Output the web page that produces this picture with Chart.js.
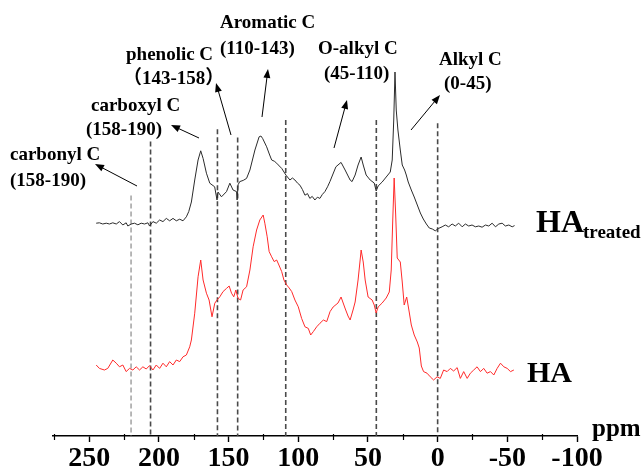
<!DOCTYPE html>
<html>
<head>
<meta charset="utf-8">
<script src="https://cdn.jsdelivr.net/npm/chart.js@4.4.1/dist/chart.umd.min.js"></script>
<style>
html,body{margin:0;padding:0;background:#fff;}
canvas{display:block;}
</style>
</head>
<body>
<canvas id="c" width="644" height="471"></canvas>
<script>
// ---- data (chemical shift in ppm, intensity in arbitrary units, traces offset as plotted) ----
const treatedPpm = [245.0,242.7,240.3,237.8,235.5,233.1,230.6,228.3,225.9,223.5,222.3,219.9,217.5,215.1,212.7,210.3,207.9,206.7,204.3,201.9,199.5,197.1,194.7,192.3,189.9,187.5,185.1,182.7,180.3,178.6,176.7,174.3,171.9,170.0,168.3,165.9,163.5,160.0,158.3,157.6,155.1,151.5,149.1,146.8,144.3,143.9,143.2,142.0,139.5,137.1,134.7,131.1,128.1,126.8,125.6,122.7,120.8,119.1,117.2,115.5,113.6,111.9,108.8,106.0,104.2,102.4,100.5,98.8,97.0,95.2,93.4,91.7,90.0,88.1,86.3,84.5,82.7,80.9,79.0,77.3,73.0,69.3,66.4,62.8,61.4,59.2,57.1,54.9,53.4,51.3,48.4,45.5,44.1,42.7,39.8,36.9,34.0,32.6,31.5,30.6,29.7,28.5,26.8,25.4,23.7,22.5,21.1,18.9,16.8,14.6,12.4,10.3,8.1,6.0,3.8,1.7,-0.7,-3.2,-5.5,-7.9,-10.4,-12.7,-15.1,-17.6,-19.9,-22.3,-24.7,-27.1,-29.5,-31.9,-34.3,-36.7,-39.1,-41.5,-43.9,-46.3,-48.6,-51.1,-53.5,-55.2];
const treatedInt = [53.2,53.3,53.0,53.2,53.0,53.3,53.0,53.6,52.75,53.3,52.5,53.0,53.2,52.8,53.2,53.0,53.3,52.5,53.6,53.2,54.0,53.6,54.4,53.8,54.4,53.8,54.2,53.8,54.8,56.1,58.5,64.0,69.0,71.3,69.4,65.7,63.2,62.3,59.0,61.0,59.8,61.1,63.2,61.5,61.1,59.0,62.8,63.6,63.9,64.4,66.5,71.5,74.8,75.0,74.4,72.3,70.5,69.0,68.7,68.2,67.5,66.9,65.2,64.0,64.5,64.0,63.2,62.7,61.6,60.2,60.6,59.4,59.9,59.0,59.7,59.4,60.4,61.1,62.3,63.6,67.3,68.4,66.5,64.0,63.6,65.25,67.75,69.75,67.75,65.25,64.0,63.25,61.25,62.5,63.5,64.75,66.0,69.0,79.0,91.0,81.5,76.5,71.5,67.75,66.5,65.25,63.5,61.5,59.75,57.75,55.75,54.25,53.0,52.0,51.75,51.3,51.9,52.3,52.75,52.3,53.0,52.5,53.2,52.3,53.0,52.5,52.75,52.3,52.5,52.2,52.75,52.5,53.2,52.3,53.0,53.2,52.5,52.75,52.3,52.6];

const haPpm = [245.0,242.7,239.1,236.7,233.1,230.6,228.3,225.9,223.5,221.1,218.7,216.3,213.9,211.5,209.1,206.7,204.3,201.9,199.5,197.1,194.7,192.3,189.9,187.5,185.1,182.7,180.3,177.9,176.7,174.3,171.9,170.0,168.3,165.9,164.0,161.9,159.9,158.3,156.3,154.0,151.5,149.6,147.9,146.3,144.8,143.2,141.4,139.6,137.1,134.7,132.4,129.9,127.6,125.2,124.0,122.3,120.9,119.1,117.3,115.5,113.9,111.9,110.3,108.3,106.5,104.7,102.4,100.0,97.6,95.2,92.8,91.1,89.2,86.8,84.4,82.0,79.6,77.2,75.0,71.5,69.3,66.5,64.3,62.8,60.7,59.2,57.1,55.6,54.9,53.4,52.0,49.9,47.0,45.5,44.1,42.7,39.8,36.9,34.7,33.3,32.2,31.2,30.1,29.0,26.8,25.4,24.0,22.2,20.4,18.9,16.8,14.6,13.2,11.7,10.1,7.6,5.3,2.9,0.4,-1.9,-4.3,-6.8,-9.1,-11.5,-14.0,-16.3,-18.7,-21.2,-23.5,-25.9,-28.3,-30.7,-33.1,-35.5,-37.9,-40.3,-42.7,-45.1,-47.5,-49.9,-52.3,-54.7];
const haInt = [17.75,16.9,16.5,16.9,19.0,18.2,17.3,17.75,16.1,16.9,16.5,17.3,16.5,17.3,16.75,17.6,16.5,17.75,16.9,18.2,17.3,18.6,17.75,19.0,18.6,19.8,20.25,22.3,24.0,30.7,39.8,44.0,39.0,35.7,34.0,29.8,33.2,34.0,34.8,36.1,36.9,37.5,35.7,34.8,36.5,34.4,34.0,36.5,37.3,41.5,47.3,51.5,54.0,55.25,53.2,49.8,46.1,44.8,43.6,44.0,42.75,41.1,39.0,37.75,37.0,36.1,34.0,32.3,29.4,27.3,26.9,25.25,26.1,27.3,28.2,29.0,28.6,31.1,32.25,33.25,34.75,32.0,30.0,29.0,31.5,33.5,39.0,44.0,46.5,43.5,39.0,34.75,34.0,32.75,30.75,32.25,33.25,34.5,36.0,41.5,54.0,64.5,55.25,44.5,43.5,38.5,32.75,34.75,31.0,27.75,25.25,23.5,22.0,17.5,16.1,15.7,14.8,14.0,14.8,14.4,16.5,16.1,16.9,16.25,17.1,14.4,16.1,14.4,15.7,16.5,17.3,16.1,16.9,15.7,16.1,15.25,16.9,18.2,17.3,16.9,16.1,16.5];

// region boundary lines (ppm) and their top (intensity units)
const dividerPpm = [220, 206, 158, 143.5, 109, 44, 0];
const dividerTop = [60.1, 73.6, 76.7, 74.6, 79.0, 79.0, 78.2];

const tickValues = [250, 200, 150, 100, 50, 0, -50, -100];
const minorTickValues = [275, 225, 175, 125, 75, 25, -25, -75];

const regionNames = ['carbonyl C', 'carboxyl C', 'phenolic C', 'Aromatic C', 'O-alkyl C', 'Alkyl C'];
const regionRanges = ['(158-190)', '(158-190)', '\uFF08143-158\uFF09', '(110-143)', '(45-110)', '(0-45)'];

// ---- build datasets ----
const toPts = (xs, ys) => xs.map((x, i) => ({x: x, y: ys[i]}));
const datasets = [
  {data: toPts(treatedPpm, treatedInt), borderColor: '#2b2b2b', borderWidth: 1, showLine: true, pointRadius: 0, tension: 0},
  {data: toPts(haPpm, haInt), borderColor: '#ff2a2a', borderWidth: 1, showLine: true, pointRadius: 0, tension: 0}
];
dividerPpm.forEach((p, i) => {
  datasets.push({
    data: [{x: p, y: dividerTop[i]}, {x: p, y: 0}],
    borderColor: i === 0 ? '#8a8a8a' : '#4a4a4a',
    borderWidth: i === 0 ? 1.2 : 1.6,
    borderDash: [5, 3],
    showLine: true, pointRadius: 0
  });
});

const SERIF = '"Liberation Serif", "Times New Roman", "Noto Sans CJK SC", serif';

function arrow(ctx, x1, y1, x2, y2) {
  const ang = Math.atan2(y2 - y1, x2 - x1);
  const L = 9, W = 3.5;
  ctx.beginPath();
  ctx.moveTo(x1, y1);
  ctx.lineTo(x2 - Math.cos(ang) * L * 0.8, y2 - Math.sin(ang) * L * 0.8);
  ctx.stroke();
  ctx.beginPath();
  ctx.moveTo(x2, y2);
  ctx.lineTo(x2 - Math.cos(ang) * L - Math.sin(ang) * W, y2 - Math.sin(ang) * L + Math.cos(ang) * W);
  ctx.lineTo(x2 - Math.cos(ang) * L + Math.sin(ang) * W, y2 - Math.sin(ang) * L - Math.cos(ang) * W);
  ctx.closePath();
  ctx.fill();
}

const decor = {
  id: 'decor',
  afterDraw(chart) {
    const ctx = chart.ctx;
    const xs = chart.scales.x;
    const bottom = chart.chartArea.bottom;
    ctx.save();
    // minor ticks
    ctx.strokeStyle = '#000';
    ctx.lineWidth = 1.2;
    minorTickValues.forEach(v => {
      const px = Math.round(xs.getPixelForValue(v)) + 0.5;
      ctx.beginPath();
      ctx.moveTo(px, bottom - 2);
      ctx.lineTo(px, bottom + 4);
      ctx.stroke();
    });
    // region labels
    ctx.fillStyle = '#000';
    ctx.font = 'bold 19px ' + SERIF;
    ctx.textAlign = 'left';
    ctx.textBaseline = 'middle';
    const namePos = [[10, 155], [91, 106], [126, 55], [220, 23], [318, 49], [439, 60]];
    const rangePos = [[10, 181], [86, 130], [123, 79], [220, 49], [324, 74], [444, 84]];
    regionNames.forEach((t, i) => ctx.fillText(t, namePos[i][0], namePos[i][1]));
    regionRanges.forEach((t, i) => ctx.fillText(t, rangePos[i][0], rangePos[i][1]));
    // arrows
    ctx.strokeStyle = '#000';
    ctx.fillStyle = '#000';
    ctx.lineWidth = 1;
    const arrows = [[137, 186, 95, 164], [199, 138, 171, 125], [231, 135, 216, 83], [262, 117, 268, 69], [334, 148, 347, 100], [411, 130, 440, 95]];
    arrows.forEach(a => arrow(ctx, a[0], a[1], a[2], a[3]));
    // series labels
    ctx.textBaseline = 'alphabetic';
    ctx.font = 'bold 32px ' + SERIF;
    ctx.fillText('HA', 536, 232);
    ctx.font = 'bold 19px ' + SERIF;
    ctx.fillText('treated', 583, 238);
    ctx.font = 'bold 30px ' + SERIF;
    ctx.fillText('HA', 527, 382);
    // axis unit
    ctx.font = 'bold 25px ' + SERIF;
    ctx.fillText('ppm', 592, 436);
    ctx.restore();
  }
};

new Chart(document.getElementById('c'), {
  type: 'scatter',
  data: {datasets: datasets},
  options: {
    responsive: false,
    animation: false,
    devicePixelRatio: 1,
    layout: {padding: {top: 36, left: 53, right: 67, bottom: 0}},
    plugins: {legend: {display: false}, tooltip: {enabled: false}},
    scales: {
      x: {
        type: 'linear',
        reverse: true,
        min: -100,
        max: 276,
        afterBuildTicks: s => { s.ticks = tickValues.map(v => ({value: v})); },
        afterFit: s => { s.height = 35; },
        grid: {display: true, drawOnChartArea: false, drawTicks: true, tickLength: 6, tickColor: '#000', tickWidth: 1.4},
        border: {display: true, color: '#000', width: 1.4},
        ticks: {
          color: '#000', padding: 0, maxRotation: 0, autoSkip: false,
          font: {family: SERIF, size: 28, weight: 'bold'},
          callback: v => String(v)
        }
      },
      y: {display: false, min: 0, max: 100}
    }
  },
  plugins: [decor]
});
</script>
</body>
</html>
